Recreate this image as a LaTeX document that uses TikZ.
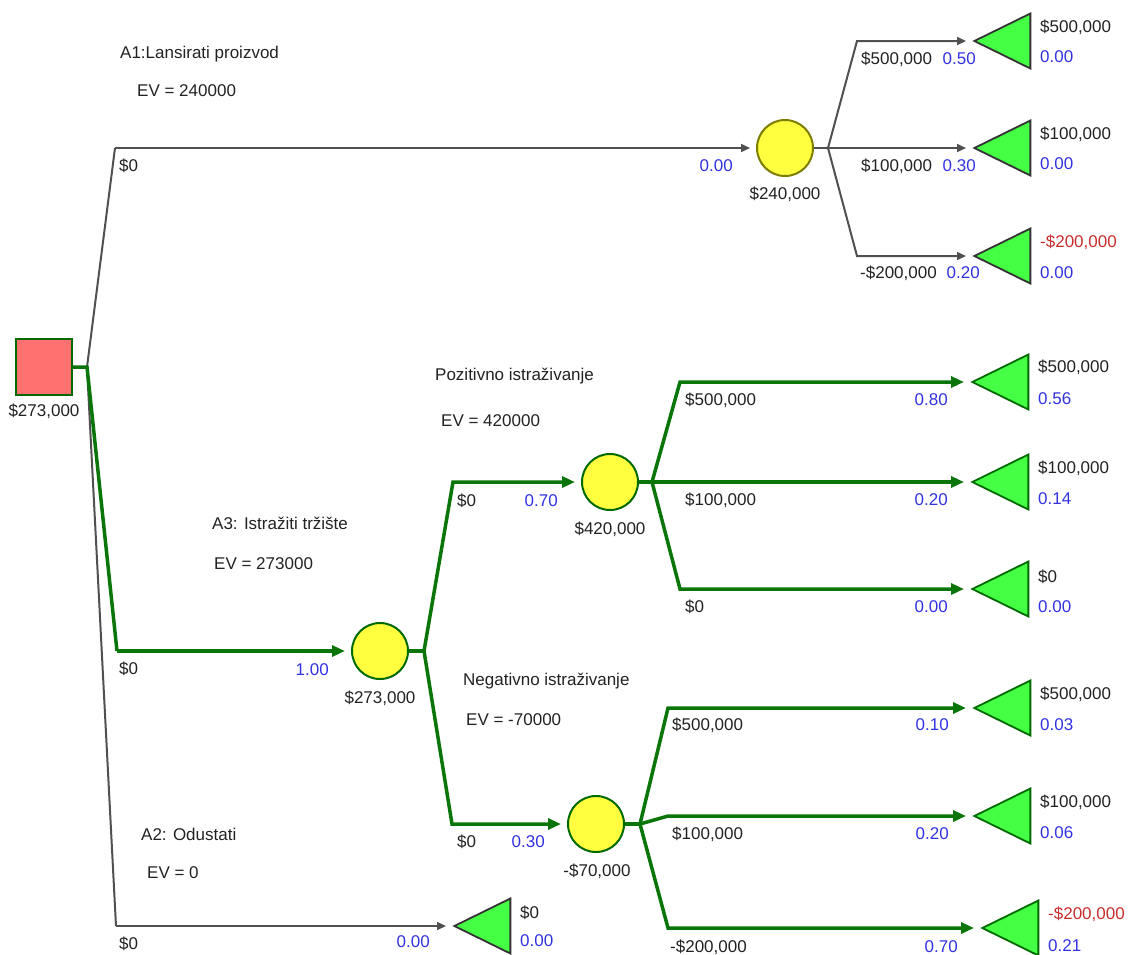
\documentclass[tikz,border=0pt]{standalone}
\usepackage{fontspec}
\setmainfont{Liberation Sans}
\usetikzlibrary{arrows.meta,shapes.geometric}
\definecolor{txtc}{RGB}{34,34,34}
\definecolor{probc}{RGB}{50,50,225}
\definecolor{redc}{RGB}{200,45,45}
\definecolor{gline}{RGB}{10,118,10}
\definecolor{grline}{RGB}{80,80,80}
\definecolor{yel}{RGB}{255,255,64}
\definecolor{olivec}{RGB}{125,125,0}
\definecolor{sal}{RGB}{255,112,112}
\definecolor{tgreen}{RGB}{68,255,68}
\definecolor{dgreen}{RGB}{0,105,0}
\begin{document}
\begin{tikzpicture}[x=1pt,y=-1pt,
  lbl/.style={font=\fontsize{17}{20}\selectfont, text=txtc, inner sep=0pt},
  lw/.style={lbl, anchor=base west},
  le/.style={lbl, anchor=base east},
  lc/.style={lbl, anchor=base},
  pr/.style={text=probc},
  rd/.style={text=redc},
  decbox/.style={draw=dgreen, line width=2pt, fill=sal, minimum size=56pt, inner sep=0pt},
  chg/.style={circle, draw=dgreen, line width=2pt, fill=yel, minimum size=56pt, inner sep=0pt},
  chgo/.style={chg, draw=olivec},
  term/.style={isosceles triangle, isosceles triangle stretches, shape border rotate=180,
     minimum width=55pt, minimum height=56pt, inner sep=0pt, fill=tgreen, draw=dgreen, line width=1.8pt, anchor=apex},
  termg/.style={term, draw=black!80},
  gp/.style={draw=gline, line width=3.5pt, line join=miter},
  ga/.style={gp, -{Triangle[length=13pt,width=11pt]}, shorten >=6pt},
  yp/.style={draw=grline, line width=2pt},
  ya/.style={yp, -{Triangle[length=9pt,width=8pt]}, shorten >=6pt},
]
\useasboundingbox (0,0) rectangle (1129,954);

% nodes
\node[decbox] (D) at (44,367) {};
\node[lc] (Dl) at (44,416) {\$273,000};
\coordinate (d0) at (87,367);

\node[chgo] (C1) at (785,148) {};
\node[lc] (C1l) at (785,199) {\$240,000};
\node[chg] (C2) at (380,651) {};
\node[lc] (C2l) at (380,703) {\$273,000};
\node[chg] (C3) at (610,482) {};
\node[lc] (C3l) at (610,534) {\$420,000};
\node[chg] (C4) at (596,824) {};
\node[lc] (C4l) at (597,876) {-\$70,000};

\node[termg] (T11) at (972,41) {};
\node[termg] (T12) at (972,148) {};
\node[termg] (T13) at (972,256) {};
\node[termg] (T2) at (452,926) {};
\node[term] (T31) at (970,382) {};
\node[term] (T32) at (970,482) {};
\node[term] (T33) at (970,589) {};
\node[term] (T41) at (972,708) {};
\node[term] (T42) at (972,816) {};
\node[term] (T43) at (980,928) {};

% connectors from decision
\draw[yp] (d0) -- (115,148);
\draw[ya] (115,148) -- (C1);
\draw[yp] (d0) -- (116,926);
\draw[ya] (116,926) -- (T2.apex);
\draw[gp] (D.east) -- (d0) -- (117,651);
\draw[ga] (117,651) -- (C2);

% C1 branches
\draw[yp] (C1.east) -- (828,148);
\draw[ya] (828,148) -- (857,41) -- (T11.apex);
\draw[ya] (828,148) -- (T12.apex);
\draw[ya] (828,148) -- (857,256) -- (T13.apex);

% C2 branches
\draw[gp] (C2.east) -- (424,651);
\draw[ga] (424,651) -- (453,482) -- (C3);
\draw[ga] (424,651) -- (452,824) -- (C4);

% C3 branches
\draw[gp] (C3.east) -- (652,482);
\draw[ga] (652,482) -- (680,382) -- (T31.apex);
\draw[ga] (652,482) -- (T32.apex);
\draw[ga] (652,482) -- (680,589) -- (T33.apex);

% C4 branches
\draw[gp] (C4.east) -- (640,824);
\draw[ga] (640,824) -- (668,708) -- (T41.apex);
\draw[ga] (640,824) -- (668,816) -- (T42.apex);
\draw[ga] (640,824) -- (668,928) -- (T43.apex);

% decision texts
\node[lw] (a1) at (120,58) {A1:Lansirati proizvod};
\node[lw] (a1e) at (137,96) {EV = 240000};
\node[lw] (a3) at (212,529) {A3: Istražiti tržište};
\node[lw] (a3e) at (214,569) {EV = 273000};
\node[lw] (a2) at (141,840) {A2: Odustati};
\node[lw] (a2e) at (147,878) {EV = 0};
\node[lw] (pz) at (435,380) {Pozitivno istraživanje};
\node[lw] (pze) at (441,426) {EV = 420000};
\node[lw] (ng) at (463,685) {Negativno istraživanje};
\node[lw] (nge) at (466,725) {EV = -70000};

% branch labels
\node[lw] (b1) at (119,171) {\$0};
\node[le,pr] (b1p) at (733,171) {0.00};
\node[lw] (b3) at (119,674) {\$0};
\node[le,pr] (b3p) at (329,675) {1.00};
\node[lw] (b2) at (119,949) {\$0};
\node[le,pr] (b2p) at (430,947) {0.00};

\node[lw] (e11) at (861,64) {\$500,000};
\node[le,pr] (e11p) at (976,64) {0.50};
\node[lw] (e12) at (861,171) {\$100,000};
\node[le,pr] (e12p) at (976,171) {0.30};
\node[lw] (e13) at (860,278) {-\$200,000};
\node[le,pr] (e13p) at (980,278) {0.20};

\node[lw] (f1) at (457,506) {\$0};
\node[le,pr] (f1p) at (558,506) {0.70};
\node[lw] (f2) at (457,847) {\$0};
\node[le,pr] (f2p) at (545,847) {0.30};

\node[lw] (g1) at (685,405) {\$500,000};
\node[le,pr] (g1p) at (948,405) {0.80};
\node[lw] (g2) at (685,505) {\$100,000};
\node[le,pr] (g2p) at (948,505) {0.20};
\node[lw] (g3) at (685,612) {\$0};
\node[le,pr] (g3p) at (948,612) {0.00};

\node[lw] (h1) at (672,730) {\$500,000};
\node[le,pr] (h1p) at (949,730) {0.10};
\node[lw] (h2) at (672,839) {\$100,000};
\node[le,pr] (h2p) at (949,839) {0.20};
\node[lw] (h3) at (670,952) {-\$200,000};
\node[le,pr] (h3p) at (958,952) {0.70};

% terminal labels
\node[lw] (t11a) at (1040,32) {\$500,000};
\node[lw,pr] (t11b) at (1040,62) {0.00};
\node[lw] (t12a) at (1040,139) {\$100,000};
\node[lw,pr] (t12b) at (1040,169) {0.00};
\node[lw,rd] (t13a) at (1040,247) {-\$200,000};
\node[lw,pr] (t13b) at (1040,278) {0.00};

\node[lw] (t2a) at (520,918) {\$0};
\node[lw,pr] (t2b) at (520,946) {0.00};

\node[lw] (t31a) at (1038,372) {\$500,000};
\node[lw,pr] (t31b) at (1038,404) {0.56};
\node[lw] (t32a) at (1038,473) {\$100,000};
\node[lw,pr] (t32b) at (1038,504) {0.14};
\node[lw] (t33a) at (1038,582) {\$0};
\node[lw,pr] (t33b) at (1038,612) {0.00};

\node[lw] (t41a) at (1040,699) {\$500,000};
\node[lw,pr] (t41b) at (1040,730) {0.03};
\node[lw] (t42a) at (1040,807) {\$100,000};
\node[lw,pr] (t42b) at (1040,838) {0.06};
\node[lw,rd] (t43a) at (1048,919) {-\$200,000};
\node[lw,pr] (t43b) at (1048,951) {0.21};
\end{tikzpicture}
\end{document}
